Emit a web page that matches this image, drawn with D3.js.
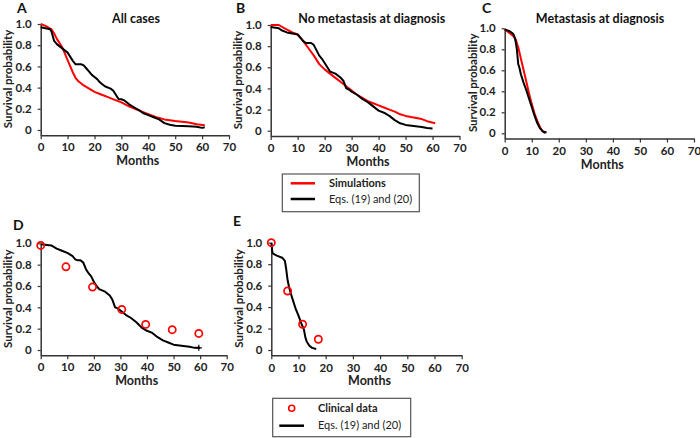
<!DOCTYPE html>
<html><head><meta charset="utf-8">
<script src="https://cdn.jsdelivr.net/npm/d3@7"></script>
<style>
body{margin:0;background:#fff;}
svg{display:block;font-family:Lato,"Open Sans",sans-serif;}
</style></head>
<body><svg id="c" width="700" height="438"></svg>
<script>
// ---------- DATA ----------
const xTicks = [0,10,20,30,40,50,60,70];
const yTicks = [0,0.2,0.4,0.6,0.8,1.0];
const yTickLabels = ["0","0.2","0.4","0.6","0.8","1.0"];
const panelLetters = ["A","B","C","D","E"];
const panelTitles = ["All cases","No metastasis at diagnosis","Metastasis at diagnosis","",""];
const xLabel = "Months";
const yLabel = "Survival probability";
const legend1Labels = ["Simulations","Eqs. (19) and (20)"];
const legend2Labels = ["Clinical data","Eqs. (19) and (20)"];

// Panel A
const simA_t = [0,2,4,5,6,7,8,9,10,11,12,13,14,16,18,20,22,25,28,30,33,36,40,43,46,50,55,58,61];
const simA_s = [1.0,0.98,0.95,0.91,0.86,0.82,0.78,0.72,0.66,0.60,0.54,0.49,0.46,0.42,0.39,0.36,0.34,0.31,0.28,0.26,0.22,0.19,0.15,0.12,0.10,0.085,0.07,0.055,0.045];
const eqA_t = [0,3.5,4,5,6,8,10,11,12,13,14,15,16,17,18,19,20,21,22,23,24,26,27,28,29,30,31,33,35,37,38,40,42,44,46,48,50,55,58,60,61];
const eqA_s = [0.97,0.95,0.93,0.84,0.81,0.77,0.73,0.69,0.65,0.62,0.62,0.62,0.61,0.58,0.55,0.52,0.50,0.48,0.45,0.43,0.41,0.39,0.37,0.33,0.29,0.29,0.28,0.24,0.21,0.18,0.16,0.14,0.12,0.10,0.065,0.05,0.04,0.035,0.03,0.02,0.025];

// Panel B
const simB_t = [0,3,5,8,10,12,14,16,18,20,22,24,26,28,30,32,34,36,38,40,42,44,46,48,50,52,54,56,58,61];
const simB_s = [1.0,1.0,0.97,0.93,0.91,0.85,0.78,0.71,0.63,0.58,0.54,0.50,0.46,0.42,0.38,0.34,0.31,0.28,0.26,0.24,0.22,0.20,0.18,0.155,0.14,0.13,0.12,0.11,0.09,0.07];
const eqB_t = [0,3,4,6,8,10,11,12,13,14,15,16,17,18,19,20,21,22,23,24,25,26,27,28,29,30,32,34,36,38,40,42,44,46,48,50,53,56,58,60];
const eqB_s = [0.98,0.97,0.95,0.93,0.92,0.91,0.88,0.85,0.83,0.83,0.83,0.81,0.76,0.71,0.68,0.64,0.60,0.56,0.55,0.54,0.52,0.50,0.47,0.40,0.39,0.37,0.34,0.30,0.27,0.23,0.19,0.17,0.14,0.10,0.07,0.055,0.045,0.035,0.025,0.02];

// Panel C
const simC_t = [0,1,2,3,4,5,6,7,8,9,10,11,12,13,14,15];
const simC_s = [0.99,0.97,0.95,0.93,0.90,0.82,0.71,0.60,0.49,0.38,0.28,0.19,0.12,0.06,0.02,0.0];
const eqC_t = [0,1,2,3,3.5,4,4.5,5,5.5,6,7,8,9,10,11,12,13,14,15,15.5];
const eqC_s = [0.99,0.98,0.97,0.95,0.93,0.88,0.80,0.66,0.62,0.56,0.48,0.41,0.33,0.25,0.17,0.10,0.05,0.02,0.01,0.01];

// Panel D
const clinD_t = [0,9.5,19.5,30.5,39.5,49.5,59.5];
const clinD_s = [0.98,0.78,0.59,0.38,0.24,0.19,0.155];
const eqD_t = [0,4,6,8,10,12,13,14,15,16,17,18,19,20,21,22,24,26,27,28,29,30,32,34,36,38,40,42,44,46,48,50,53,56,58,60];
const eqD_s = [0.99,0.98,0.95,0.93,0.91,0.88,0.85,0.84,0.84,0.82,0.76,0.72,0.69,0.64,0.60,0.57,0.55,0.51,0.47,0.40,0.39,0.37,0.33,0.30,0.26,0.21,0.18,0.16,0.12,0.09,0.07,0.05,0.04,0.03,0.02,0.02];
const censorD_t = [59.5];
const censorD_s = [0.02];

// Panel E
const clinE_t = [0,6,11.5,17.3];
const clinE_s = [1.0,0.55,0.24,0.10];
const eqE_t = [0,0.3,0.5,2,4,5,5.5,6,6.5,7,8,9,10,11,12,12.5,13,14,15,16.5];
const eqE_s = [1.0,0.93,0.90,0.88,0.86,0.83,0.75,0.65,0.59,0.54,0.46,0.38,0.32,0.25,0.19,0.12,0.08,0.04,0.02,0.01];

// ---------- LAYOUT ----------
const panels = [
  {x0:40.7, x1:229,   yTop:24,   yZero:130,   ylx:8,     lx:17,  ly:13,  tx:136,  lines:[[simA_t,simA_s,"#ff0000"],[eqA_t,eqA_s,"#000"]], pts:null, cens:null},
  {x0:270.7,x1:459.5, yTop:25,   yZero:130.7, ylx:237.5, lx:236, ly:13,  tx:371.7,lines:[[simB_t,simB_s,"#ff0000"],[eqB_t,eqB_s,"#000"]], pts:null, cens:null},
  {x0:504.7,x1:694,   yTop:28.3, yZero:133.3, ylx:472.5, lx:482, ly:13,  tx:600,  lines:[[simC_t,simC_s,"#ff0000"],[eqC_t,eqC_s,"#000"]], pts:null, cens:null},
  {x0:40.7, x1:226.7, yTop:243.3,yZero:350,   ylx:7.5,   lx:13,  ly:230, tx:0,    lines:[[eqD_t,eqD_s,"#000"]], pts:[clinD_t,clinD_s], cens:[censorD_t,censorD_s]},
  {x0:271.3,x1:461.7, yTop:242.7,yZero:350,   ylx:239,   lx:233, ly:226, tx:0,    lines:[[eqE_t,eqE_s,"#000"]], pts:[clinE_t,clinE_s], cens:null}
];

const svg = d3.select("#c");
const axisCol = "#333";

panels.forEach((p,i)=>{
  const x = d3.scaleLinear().domain([0,70]).range([p.x0,p.x1]);
  const unit = p.yZero - p.yTop;
  const y = d3.scaleLinear().domain([-0.05,1]).range([p.yZero+0.05*unit, p.yTop]);
  const g = svg.append("g");

  const xa = g.append("g").attr("transform",`translate(0,${y(-0.05)})`)
    .call(d3.axisBottom(x).tickValues(xTicks).tickSize(4).tickSizeOuter(0).tickPadding(4));
  xa.select(".domain").attr("stroke",axisCol).attr("stroke-width",1.5);
  xa.selectAll(".tick line").attr("stroke",axisCol).attr("stroke-width",1.2);
  xa.selectAll(".tick text").attr("font-family","Lato,'Open Sans',sans-serif").attr("font-size",11.5).attr("font-weight","bold").attr("fill","#222");

  const ya = g.append("g").attr("transform",`translate(${p.x0},0)`)
    .call(d3.axisLeft(y).tickValues(yTicks).tickFormat((d,k)=>yTickLabels[k]).tickSize(3).tickSizeOuter(0).tickPadding(6));
  ya.select(".domain").attr("stroke",axisCol).attr("stroke-width",1.5);
  ya.selectAll(".tick line").attr("stroke",axisCol).attr("stroke-width",1.2);
  ya.selectAll(".tick text").attr("font-family","Lato,'Open Sans',sans-serif").attr("font-size",11.5).attr("font-weight","bold").attr("fill","#222");

  p.lines.forEach(([t,s,col])=>{
    const data = t.map((v,k)=>[v,s[k]]);
    g.append("path").datum(data)
      .attr("fill","none").attr("stroke",col).attr("stroke-width",2).attr("stroke-linejoin","round")
      .attr("d", d3.line().x(d=>x(d[0])).y(d=>y(d[1])));
  });
  if(p.cens){
    const data = p.cens[0].map((v,k)=>[v,p.cens[1][k]]);
    g.selectAll("path.cens").data(data).enter().append("path")
      .attr("fill","none").attr("stroke","#000").attr("stroke-width",1.2)
      .attr("d", d3.symbol().type(d3.symbolCross).size(30)().replace(/.*/,"") || null)
      .attr("d", d=>{const cx=x(d[0]), cy=y(d[1]); return `M${cx-3},${cy}H${cx+3}M${cx},${cy-3}V${cy+3}`;});
  }
  if(p.pts){
    const data = p.pts[0].map((v,k)=>[v,p.pts[1][k]]);
    g.selectAll("circle.pt").data(data).enter().append("circle")
      .attr("cx",d=>x(d[0])).attr("cy",d=>y(d[1])).attr("r",3.6)
      .attr("fill","none").attr("stroke","#ff0000").attr("stroke-width",1.7);
  }

  g.append("text").attr("x",(p.x0+p.x1)/2+3).attr("y",y(-0.05)+30)
    .attr("text-anchor","middle").attr("font-size",12.5).attr("font-weight","bold").attr("fill","#222").text(xLabel);
  g.append("text").attr("transform",`translate(${p.ylx+4},${(p.yTop+p.yZero)/2+2}) rotate(-90)`)
    .attr("text-anchor","middle").attr("font-size",11.5).attr("font-weight","bold").attr("fill","#222").text(yLabel);
  g.append("text").attr("x",p.lx).attr("y",p.ly).attr("font-size",14).attr("font-weight","bold").attr("fill","#111").text(panelLetters[i]);
  if(panelTitles[i]) g.append("text").attr("x",p.tx).attr("y",23).attr("text-anchor","middle")
    .attr("font-size",12.5).attr("font-weight","bold").attr("fill","#111").text(panelTitles[i]);
});

const l1 = svg.append("g");
l1.append("rect").attr("x",282.3).attr("y",174).attr("width",137).attr("height",37.7).attr("fill","#fff").attr("stroke","#555").attr("stroke-width",1.2);
l1.append("line").attr("x1",290.7).attr("x2",315).attr("y1",183.3).attr("y2",183.3).attr("stroke","#ff0000").attr("stroke-width",2.5);
l1.append("line").attr("x1",290.7).attr("x2",315).attr("y1",199).attr("y2",199).attr("stroke","#000").attr("stroke-width",2.5);
l1.append("text").attr("x",329).attr("y",187).attr("font-size",11).attr("font-weight","bold").attr("fill","#222").text(legend1Labels[0]);
l1.append("text").attr("x",329).attr("y",203).attr("font-size",11).attr("fill","#222").text(legend1Labels[1]);

const l2 = svg.append("g");
l2.append("rect").attr("x",272.7).attr("y",398.3).attr("width",138).attr("height",38.4).attr("fill","#fff").attr("stroke","#555").attr("stroke-width",1.2);
l2.append("circle").attr("cx",291.7).attr("cy",408.3).attr("r",3).attr("fill","none").attr("stroke","#ff0000").attr("stroke-width",1.6);
l2.append("line").attr("x1",279.3).attr("x2",304).attr("y1",425.7).attr("y2",425.7).attr("stroke","#000").attr("stroke-width",2.5);
l2.append("text").attr("x",318).attr("y",412).attr("font-size",11).attr("font-weight","bold").attr("fill","#222").text(legend2Labels[0]);
l2.append("text").attr("x",318).attr("y",429).attr("font-size",11).attr("fill","#222").text(legend2Labels[1]);
</script></body></html>
